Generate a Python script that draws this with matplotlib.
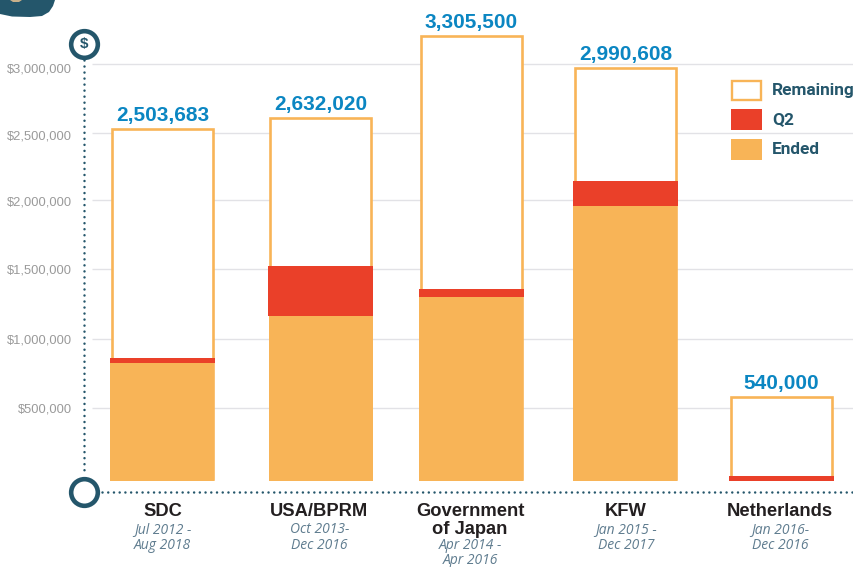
import matplotlib
matplotlib.use("Agg")
import matplotlib.pyplot as plt
from matplotlib.patches import Polygon, Rectangle
from matplotlib.transforms import Affine2D

# ---- data (as drawn in the picture) ----
donors = ["SDC", "USA/BPRM", "Government\nof Japan", "KFW", "Netherlands"]
periods = ["Jul 2012 -\nAug 2018", "Oct 2013-\nDec 2016", "Apr 2014 -\nApr 2016",
           "Jan 2015 -\nDec 2017", "Jan 2016-\nDec 2016"]
total_labels = ["2,503,683", "2,632,020", "3,305,500", "2,990,608", "540,000"]
ended = [858000, 1200000, 1337000, 1999000, 0]
q2 = [36000, 363000, 58000, 182000, 36000]
remaining = [1664000, 1076000, 1839000, 821000, 574000]
tick_values = [500000, 1000000, 1515000, 2013000, 2503000, 3000000]
tick_labels = ["$500,000", "$1,000,000", "$1,500,000", "$2,000,000", "$2,500,000", "$3,000,000"]
legend_names = ["Remaining", "Q2", "Ended"]

# ---- layout ----
W, H = 854, 567
ZERO_PX, PER_PX = 477.0, 7267.5
FLOOR = -28000
OUTLINE_INSET = 14000
centers = [162.5, 320.8, 471.5, 625.5, 781.5]
text_shift = [0, -1.5, -1.5, 0.5, -1.5]
label_drop_px = [0, 0, 0, 1, 2.5, 4]
BAR_W = 104
ORANGE, RED, TEAL, BLUE = "#F8B457", "#EA4029", "#24566B", "#0B86C2"
GRID, GREY, DARK, DATE = "#E2E2E6", "#9A9A9A", "#231F20", "#5F7C8F"
SANS = "Liberation Sans"

fig = plt.figure(figsize=(W / 100, H / 100), dpi=100, facecolor="white")
ax = fig.add_axes([0, 0, 1, 1])
ax.set_xlim(0, W)
ax.set_ylim((ZERO_PX - H) * PER_PX, ZERO_PX * PER_PX)
for s in ax.spines.values():
    s.set_visible(False)
ax.set_xticks([])
ax.set_yticks(tick_values, tick_labels, fontsize=9.3, color=GREY, family=SANS)
ax.tick_params(axis="y", length=0, pad=-52)
for tick, drop in zip(ax.yaxis.get_major_ticks(), label_drop_px):
    tick.label1.set_transform(tick.label1.get_transform() + Affine2D().translate(0, -drop))
ax.hlines(tick_values, 92, W, color=GRID, lw=1.0, zorder=1)

px = Affine2D().scale(1, -1).translate(0, H)   # pixel coordinates from the top-left

# bars
for i, c in enumerate(centers):
    base_q2 = FLOOR + ended[i]
    base_rem = base_q2 + q2[i]
    top = base_rem + remaining[i]
    ax.bar(c, top - FLOOR - OUTLINE_INSET, bottom=FLOOR + OUTLINE_INSET, width=BAR_W - 3,
           facecolor="white", edgecolor=ORANGE, lw=1.9, zorder=2)
    if ended[i]:
        ax.bar(c, ended[i], bottom=FLOOR, width=BAR_W, color=ORANGE, lw=0, zorder=3)
    ax.bar(c, q2[i], bottom=base_q2, width=BAR_W + 1, color=RED, lw=0, zorder=4)
    ax.annotate(total_labels[i], (c, top), xytext=(0, 3), textcoords="offset points",
                ha="center", va="bottom", fontsize=15, fontweight="bold",
                color=BLUE, family=SANS, zorder=5)
    lines = donors[i].split("\n")
    tx = c + text_shift[i]
    for k, t in enumerate(lines):
        ax.text(tx, 516.5 + 18 * k, t, transform=px, ha="center", va="baseline",
                fontsize=13.2, fontweight="bold", color=DARK, family=SANS)
    two_line = len(lines) > 1
    date_y = (549, 564.5) if two_line else (533, 549)
    for y, t in zip(date_y, periods[i].split("\n")):
        ax.text(tx, y, t, transform=px, ha="center", va="baseline", fontsize=10,
                style="italic", color=DATE, family="Open Sans")

# dotted axes and round end markers
ax.plot([84, 84], [60, 473], transform=px, color=TEAL, lw=1.8,
        ls=(0, (0.01, 2.4)), dash_capstyle="round", zorder=5, clip_on=False)
ax.plot([102, W], [492, 492], transform=px, color=TEAL, lw=1.8,
        ls=(0, (0.01, 2.28)), dash_capstyle="round", zorder=5, clip_on=False)
for y in (43.5, 492):
    ax.plot([84], [y], transform=px, marker="o", ms=19.2, mfc="white", mec=TEAL, mew=3.3, zorder=6)
ax.text(84, 44, "$", transform=px, ha="center", va="center", fontsize=11,
        fontweight="bold", color=TEAL, family=SANS, zorder=7)

# decorative tab at the top-left corner
ax.add_patch(Polygon([(0, 0), (55, 0), (53, 6), (49, 12), (42, 16), (30, 17), (12, 16.5), (0, 14)],
                     closed=True, transform=px, fc=TEAL, ec="none", zorder=5))
ax.add_patch(Polygon([(10, 0), (22, 0), (19, 2), (13, 2)], closed=True, transform=px,
                     fc="#C9B08A", ec="none", zorder=6))

# legend
for name, y, fc, ec in zip(legend_names, (90, 119.5, 149.5),
                           ("white", RED, ORANGE), (ORANGE, RED, ORANGE)):
    if name == "Remaining":
        ax.add_patch(Rectangle((732, y - 9), 28.5, 18.5, transform=px, fc=fc, ec=ec, lw=1.7, zorder=5))
    else:
        ax.add_patch(Rectangle((731, y - 10.5), 31, 21, transform=px, fc=fc, ec="none", zorder=5))
    ax.text(772, y + 0.5, name, transform=px, ha="left", va="center", fontsize=12.4,
            fontweight="bold", color=TEAL, family="Roboto", zorder=5)

fig.savefig("out.png", dpi=100, facecolor="white")
